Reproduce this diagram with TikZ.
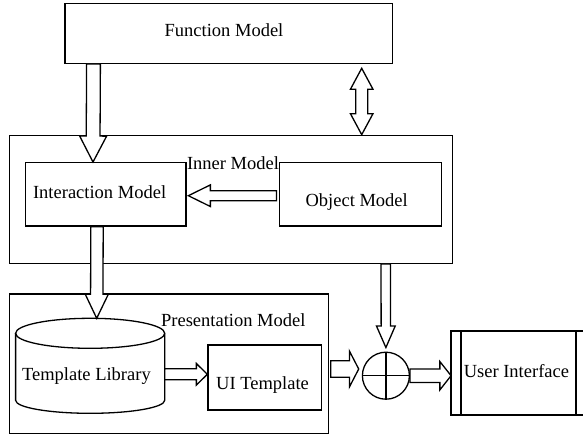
\documentclass[tikz,border=0pt]{standalone}
\usepackage{fontspec}
\setmainfont{Liberation Serif}
\usetikzlibrary{calc}
\newcommand{\blkarrow}[5]{%
  \path ($(#2)!#5!(#1)$) coordinate (hb);
  \draw[blk] ($(#1)!#3!90:(#2)$)
    -- ($(hb)!#3!-90:(#1)$)
    -- ($(hb)!#4!-90:(#1)$)
    -- (#2)
    -- ($(hb)!#4!90:(#1)$)
    -- ($(hb)!#3!90:(#1)$)
    -- ($(#1)!#3!-90:(#2)$) -- cycle;}
\newcommand{\dblarrow}[5]{%
  \path ($(#1)!#5!(#2)$) coordinate (ha) ($(#2)!#5!(#1)$) coordinate (hb);
  \draw[blk] (#1) -- ($(ha)!#4!90:(#2)$) -- ($(ha)!#3!90:(#2)$)
    -- ($(hb)!#3!-90:(#1)$) -- ($(hb)!#4!-90:(#1)$) -- (#2)
    -- ($(hb)!#4!90:(#1)$) -- ($(hb)!#3!90:(#1)$)
    -- ($(ha)!#3!-90:(#2)$) -- ($(ha)!#4!-90:(#2)$) -- cycle;}
\begin{document}
\begin{tikzpicture}[x=1pt,y=-1pt,line width=1.3pt,
  box/.style={draw,rectangle,inner sep=0pt},
  txt/.style={inner sep=0pt,text height=12.4pt,text depth=0pt,font=\fontsize{18.5}{20}\selectfont},
  blk/.style={draw,fill=white,line join=miter}]
\useasboundingbox (0,0) rectangle (583,436);
% boxes
\node[box,minimum width=327.2pt,minimum height=60pt] (fm) at (228.6,33.3) {};
\node[txt] (fmt) at (224,30) {Function Model};
\node[box,minimum width=443.1pt,minimum height=128pt] (inner) at (230.85,199.3) {};
\node[box,minimum width=160.6pt,minimum height=63.3pt] (im) at (105.6,194.35) {};
\node[box,minimum width=161.7pt,minimum height=63.3pt] (om) at (360.45,194.35) {};
\node[txt] (innert) at (233,163) {Inner Model};
\node[txt] (imt) at (99.6,192.7) {Interaction Model};
\node[txt] (omt) at (356.7,200) {Object Model};
\node[box,minimum width=319pt,minimum height=139.3pt] (pm) at (168.8,363.65) {};
\node[txt] (pmt) at (233.3,320) {Presentation Model};
% cylinder
\draw[fill=white] (15.6,333.3) -- (15.6,400.3)
  arc[start angle=180,end angle=360,x radius=74.55pt,y radius=13pt]
  -- (164.7,333.3)
  arc[start angle=0,end angle=180,x radius=74.55pt,y radius=15pt] -- cycle;
\draw (15.6,333.3) arc[start angle=180,end angle=360,x radius=74.55pt,y radius=15pt];
\coordinate (tltop) at (96.7,318.3);
\coordinate (tlright) at (164.7,374.3);
\node[txt] (tlt) at (86.4,374) {Template Library};
\node[box,minimum width=113.6pt,minimum height=65pt] (ui) at (264.8,377.5) {};
\node[txt] (uit) at (262.5,383.3) {UI Template};
% circle
\node[draw,circle,minimum size=47pt,inner sep=0pt] (c) at (385.9,375.7) {};
\draw (c.north) -- (c.south) (c.west) -- (c.east);
% user interface
\node[box,minimum width=135pt,minimum height=84pt] (us) at (518.5,373) {};
\draw (461,331) -- (461,415) (576,331) -- (576,415);
\node[txt] (ust) at (516.4,371.7) {User Interface};
% arrow end points
\coordinate (a1s) at (93.5,0 |- fm.south);
\coordinate (a1e) at (93,0 |- im.north);
\coordinate (a2s) at (361.7,68.3);
\coordinate (a2e) at (361.7,0 |- inner.north);
\coordinate (a3s) at ($(0,195.7 -| om.west)+(-2.5,0)$);
\coordinate (a3e) at ($(0,195.7 -| im.east)+(1.8,0)$);
\coordinate (a4s) at (97,0 |- im.south);
\coordinate (a5e) at (0,374.3 -| ui.west);
\coordinate (a6s) at ($(0,369 -| pm.east)+(1.7,0)$);
\coordinate (a6e) at (358.7,369);
\coordinate (a7s) at (385.7,0 |- inner.south);
\coordinate (a7e) at ($(c.north)+(0,-4)$);
\coordinate (a8e) at ($(us.west)+(0.7,2.7)$);
\coordinate (a8s) at (c.east);
% arrows
\blkarrow{a1s}{a1e}{6.9pt}{13.5pt}{26pt}
\dblarrow{a2s}{a2e}{6pt}{11.3pt}{21pt}
\blkarrow{a3s}{a3e}{5pt}{10.8pt}{22pt}
\blkarrow{a4s}{tltop}{6.2pt}{11.5pt}{24pt}
\blkarrow{tlright}{a5e}{5.5pt}{10.8pt}{11pt}
\blkarrow{a6s}{a6e}{8.3pt}{18pt}{9.3pt}
\blkarrow{a7s}{a7e}{4.7pt}{9.4pt}{21.6pt}
\blkarrow{a8s}{a8e}{6.8pt}{14.2pt}{11.2pt}
\end{tikzpicture}
\end{document}
